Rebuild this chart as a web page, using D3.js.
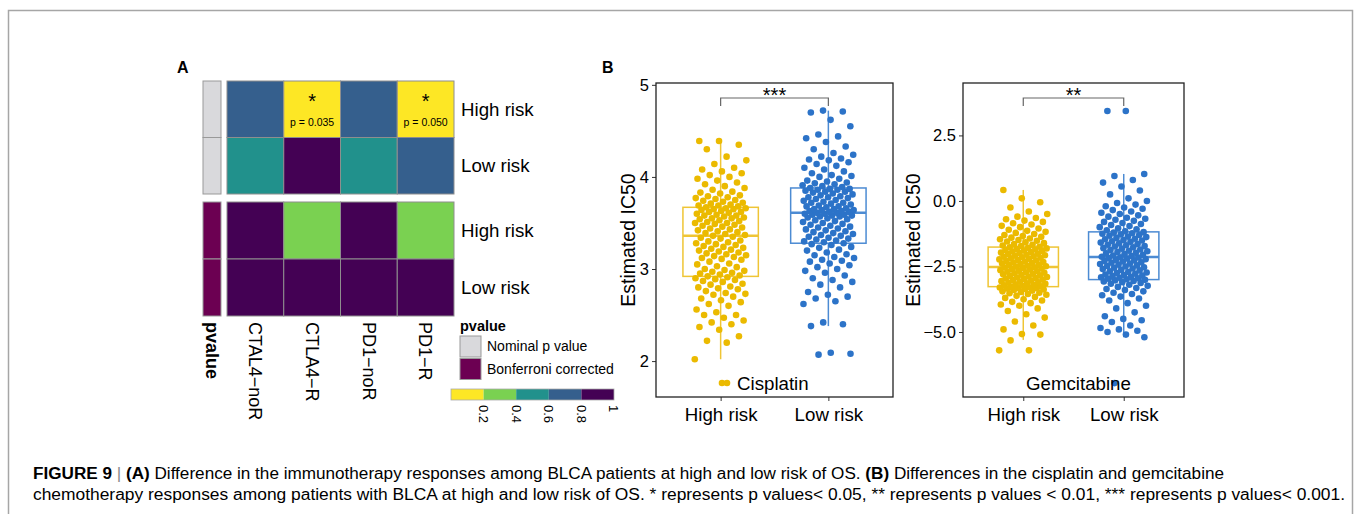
<!DOCTYPE html>
<html>
<head>
<meta charset="utf-8">
<script src="https://cdn.jsdelivr.net/npm/d3@7"></script>
<style>
    body { margin: 0; background: #fff; }
    text { font-family: "Liberation Sans", Arial, sans-serif; fill: #000; }
</style>
</head>
<body>
<svg id="chart"></svg>
<script>
// panel A : heatmap of p values
const heatCols = ["CTAL4−noR", "CTLA4−R", "PD1−noR", "PD1−R"];
const heatRows = ["High risk", "Low risk"];
const nominalP = [[0.70, 0.035, 0.70, 0.050], [0.50, 0.95, 0.50, 0.70]];
const bonferroniP = [[1, 0.28, 1, 0.38], [1, 1, 1, 1]];
const pBreaks = [0.2, 0.4, 0.6, 0.8];
const pColors = ["#FDE725", "#7AD151", "#21918C", "#355F8D", "#440154"];
const pLegendTicks = [0.2, 0.4, 0.6, 0.8, 1];
const annotLabels = ["Nominal p value", "Bonferroni corrected"];
const annotColors = ["#D9D9DC", "#6C0052"];

// panel B : estimated IC50
const groups = ["High risk", "Low risk"];
const cisHigh = [2.02, 2.20, 2.22, 2.27, 2.34, 2.37, 2.40, 2.42, 2.44, 2.47, 2.50, 2.50, 2.53, 2.56, 2.60, 2.62, 2.64, 2.66, 2.68, 2.70,
    2.72, 2.73, 2.74, 2.76, 2.78, 2.79, 2.80, 2.81, 2.83, 2.84, 2.86, 2.87, 2.88, 2.89, 2.90, 2.91, 2.92,
    2.93, 2.94, 2.95, 2.96, 2.97, 2.98, 2.99, 3.00, 3.02, 3.03, 3.05, 3.06, 3.08, 3.10, 3.11, 3.12, 3.13, 3.14, 3.15, 3.16,
    3.17, 3.18, 3.19, 3.20, 3.21, 3.22, 3.23, 3.24, 3.25, 3.26, 3.27, 3.28, 3.29, 3.30, 3.31, 3.33, 3.34, 3.35,
    3.36, 3.37, 3.38, 3.39, 3.40, 3.41, 3.42, 3.43, 3.44, 3.45, 3.46, 3.47, 3.48, 3.49, 3.50, 3.50, 3.51, 3.52, 3.53, 3.54,
    3.55, 3.55, 3.56, 3.57, 3.58, 3.58, 3.59, 3.60, 3.61, 3.62, 3.62, 3.63, 3.64, 3.65, 3.65, 3.66, 3.66, 3.67,
    3.68, 3.69, 3.69, 3.70, 3.71, 3.72, 3.73, 3.74, 3.75, 3.76, 3.77, 3.78, 3.79, 3.80, 3.82, 3.83, 3.84, 3.86, 3.88, 3.90,
    3.92, 3.94, 3.96, 3.98, 4.00, 4.02, 4.04, 4.06, 4.08, 4.10, 4.14, 4.18, 4.22, 4.30, 4.35, 4.39, 4.39];
const cisLow = [2.07, 2.08, 2.09,
    2.38, 2.40, 2.42, 2.62, 2.65, 2.68, 2.70, 2.72, 2.75, 2.80, 2.83, 2.86, 2.88, 2.90, 2.93, 2.96, 2.98, 3.00, 3.02, 3.04,
    3.06, 3.08, 3.09, 3.10, 3.12, 3.13, 3.15, 3.16, 3.18, 3.20, 3.21, 3.23, 3.24, 3.26, 3.27,
    3.28, 3.29, 3.30, 3.31, 3.32, 3.33, 3.34, 3.35, 3.36, 3.37, 3.38, 3.39, 3.40, 3.41, 3.42, 3.43, 3.44, 3.45, 3.46, 3.47,
    3.48, 3.49, 3.50, 3.51, 3.52, 3.53, 3.54, 3.55, 3.56, 3.57, 3.57, 3.58, 3.58, 3.59, 3.59, 3.60, 3.60, 3.61,
    3.61, 3.62, 3.62, 3.63, 3.63, 3.64, 3.64, 3.65, 3.65, 3.66, 3.67, 3.68, 3.68, 3.69, 3.70, 3.71, 3.72, 3.72, 3.73, 3.74,
    3.75, 3.76, 3.77, 3.78, 3.78, 3.79, 3.80, 3.81, 3.82, 3.83, 3.84, 3.84, 3.85, 3.86, 3.86, 3.87, 3.87, 3.88,
    3.89, 3.90, 3.91, 3.92, 3.93, 3.94, 3.95, 3.96, 3.98, 4.00, 4.01, 4.02, 4.04, 4.06, 4.08, 4.10, 4.12, 4.14, 4.16, 4.18,
    4.19, 4.20, 4.22, 4.24, 4.26, 4.30, 4.33, 4.38, 4.42, 4.44, 4.46, 4.55, 4.62, 4.70, 4.71, 4.72];
const gemHigh = [-5.70, -5.70,
    -5.32, -5.10, -5.08, -4.90, -4.75, -4.60, -4.45, -4.32, -4.20, -4.10, -4.00, -3.95, -3.90, -3.85, -3.80, -3.75, -3.70, -3.66,
    -3.62, -3.58, -3.55, -3.52, -3.50, -3.47, -3.45, -3.42, -3.40, -3.38, -3.36, -3.34, -3.32, -3.31, -3.30, -3.29, -3.28,
    -3.26, -3.24, -3.22, -3.20, -3.18, -3.16, -3.14, -3.12, -3.10, -3.08, -3.06, -3.04, -3.02, -3.00, -2.98, -2.96, -2.94, -2.92,
    -2.90, -2.88, -2.86, -2.84, -2.82, -2.80, -2.78, -2.76, -2.74, -2.72, -2.70, -2.68, -2.66, -2.64, -2.62, -2.60, -2.58, -2.56,
    -2.54, -2.53, -2.51, -2.49, -2.47, -2.45, -2.43, -2.41, -2.39, -2.37, -2.35, -2.33, -2.31, -2.29, -2.27, -2.25, -2.23, -2.21,
    -2.19, -2.17, -2.15, -2.13, -2.11, -2.09, -2.07, -2.05, -2.03, -2.01, -1.99, -1.97, -1.95, -1.93, -1.91, -1.89, -1.87, -1.85,
    -1.83, -1.81, -1.79, -1.77, -1.75, -1.72, -1.70, -1.67, -1.64, -1.61, -1.58, -1.55, -1.52, -1.49, -1.46, -1.43, -1.40, -1.37,
    -1.34, -1.30, -1.26, -1.22, -1.18, -1.14, -1.10, -1.05, -1.00, -0.95, -0.90, -0.85, -0.80, -0.75, -0.70, -0.65, -0.60, -0.50,
    -0.40, -0.25, -0.05, 0.10, 0.42];
const gemLow = [-6.95,
    -5.20, -5.10, -5.00, -4.95, -4.90, -4.85, -4.75, -4.62, -4.55, -4.50, -4.40, -4.25, -4.10, -4.00, -3.90, -3.80, -3.72, -3.65,
    -3.60, -3.55, -3.50, -3.45, -3.40, -3.36, -3.32, -3.28, -3.24, -3.20, -3.16, -3.13, -3.10, -3.07, -3.05, -3.03, -3.01,
    -2.99, -2.97, -2.95, -2.93, -2.91, -2.89, -2.87, -2.85, -2.83, -2.81, -2.78, -2.75, -2.73, -2.71, -2.68, -2.65, -2.63, -2.60,
    -2.58, -2.55, -2.53, -2.50, -2.48, -2.46, -2.43, -2.41, -2.39, -2.36, -2.34, -2.31, -2.29, -2.27, -2.25, -2.22, -2.20, -2.18,
    -2.16, -2.15, -2.13, -2.10, -2.08, -2.05, -2.03, -2.00, -1.98, -1.95, -1.92, -1.90, -1.87, -1.85, -1.82, -1.80, -1.77, -1.74,
    -1.72, -1.69, -1.67, -1.64, -1.62, -1.59, -1.56, -1.54, -1.51, -1.49, -1.46, -1.44, -1.41, -1.38, -1.36, -1.33, -1.30, -1.28,
    -1.25, -1.23, -1.21, -1.19, -1.16, -1.12, -1.08, -1.04, -1.00, -0.96, -0.92, -0.88, -0.84, -0.80, -0.76, -0.72, -0.68, -0.64,
    -0.60, -0.55, -0.50, -0.45, -0.40, -0.35, -0.30, -0.25, -0.20, -0.14, -0.08, 0.00, 0.10, 0.25, 0.40, 0.55, 0.70, 0.80, 0.95,
    1.03, 3.43, 3.43];

// box statistics [High risk, Low risk]
const cisQ1 = [2.92, 3.28], cisMed = [3.36, 3.61], cisQ3 = [3.67, 3.88];
const cisWhiskLo = [2.02, 2.38], cisWhiskHi = [4.39, 4.72];
const gemQ1 = [-3.27, -3.00], gemMed = [-2.52, -2.14], gemQ3 = [-1.76, -1.18];
const gemWhiskLo = [-5.30, -5.20], gemWhiskHi = [0.42, 1.03];
const cisTicks = [2, 3, 4, 5];
const gemTicks = [-5, -2.5, 0, 2.5];

const dotColors = ["#EBBA00", "#2C73C8"];
const boxColors = ["#EFC535", "#4C8BD3"];

const svg = d3.select("#chart")
    .attr("width", 1356)
    .attr("height", 514);

// outer frame
svg.append("path")
    .attr("d", "M8.5,514V10.5H1352.5V514")
    .attr("fill", "none")
    .attr("stroke", "#a6a6a6")
    .attr("stroke-width", 1.5);

// ---------- panel A ----------
svg.append("text").attr("x", 177).attr("y", 73)
    .attr("font-size", 16).attr("font-weight", "bold").text("A");

const color = d3.scaleThreshold().domain(pBreaks).range(pColors);
const xCol = d3.scaleBand().domain(heatCols).range([227, 454]);
const blocks = [
    { values: nominalP, y: d3.scaleBand().domain(heatRows).range([81, 194]), annot: annotColors[0] },
    { values: bonferroniP, y: d3.scaleBand().domain(heatRows).range([202, 316]), annot: annotColors[1] }
];

blocks.forEach(b => {
    const cells = [];
    heatRows.forEach((r, i) => heatCols.forEach((c, j) => cells.push({ r, c, p: b.values[i][j] })));

    svg.append("g").selectAll("rect")
        .data(heatRows).enter().append("rect")
        .attr("x", 203).attr("width", 18)
        .attr("y", d => b.y(d)).attr("height", b.y.bandwidth())
        .attr("fill", b.annot).attr("stroke", "#999").attr("stroke-width", 1);

    const g = svg.append("g");
    g.selectAll("rect")
        .data(cells).enter().append("rect")
        .attr("x", d => xCol(d.c)).attr("width", xCol.bandwidth())
        .attr("y", d => b.y(d.r)).attr("height", b.y.bandwidth())
        .attr("fill", d => color(d.p))
        .attr("stroke", "#8e8e8e").attr("stroke-width", 1);

    if (b.values === nominalP) {
        const sig = cells.filter(d => d.p <= 0.05);
        g.selectAll(".star").data(sig).enter().append("text")
            .attr("x", d => xCol(d.c) + xCol.bandwidth() / 2)
            .attr("y", d => b.y(d.r) + 27)
            .attr("text-anchor", "middle").attr("font-size", 20).text("*");
        g.selectAll(".pv").data(sig).enter().append("text")
            .attr("x", d => xCol(d.c) + xCol.bandwidth() / 2)
            .attr("y", d => b.y(d.r) + 45)
            .attr("text-anchor", "middle").attr("font-size", 10.5)
            .text(d => "p = " + d3.format(".3f")(d.p));
    }

    svg.append("g").selectAll("text")
        .data(heatRows).enter().append("text")
        .attr("x", 461)
        .attr("y", d => b.y(d) + b.y.bandwidth() / 2)
        .attr("dy", "0.35em")
        .attr("font-size", 18.7)
        .text(d => d);
});

svg.append("g").selectAll("text")
    .data(heatCols).enter().append("text")
    .attr("transform", d => `translate(${xCol(d) + xCol.bandwidth() / 2},322) rotate(90)`)
    .attr("dy", "0.35em")
    .attr("font-size", 18)
    .text(d => d);

svg.append("text")
    .attr("transform", "translate(212,322) rotate(90)")
    .attr("dy", "0.35em")
    .attr("font-size", 18).attr("font-weight", "bold")
    .text("pvalue");

// annotation legend
svg.append("text").attr("x", 460).attr("y", 331)
    .attr("font-size", 14.5).attr("font-weight", "bold").text("pvalue");
const leg = svg.append("g").selectAll("g")
    .data(annotLabels).enter().append("g")
    .attr("transform", (d, i) => `translate(460,${336 + i * 22.5})`);
leg.append("rect").attr("width", 21).attr("height", 21)
    .attr("fill", (d, i) => annotColors[i]).attr("stroke", "#999");
leg.append("text").attr("x", 27).attr("y", 10.5).attr("dy", "0.35em")
    .attr("font-size", 14).text(d => d);

// colour bar
const xBar = d3.scaleLinear().domain([0, 1]).range([451, 614]);
const barEdges = [0].concat(pLegendTicks);
svg.append("g").selectAll("rect")
    .data(pColors).enter().append("rect")
    .attr("x", (d, i) => xBar(barEdges[i]))
    .attr("width", (d, i) => xBar(barEdges[i + 1]) - xBar(barEdges[i]))
    .attr("y", 389).attr("height", 11)
    .attr("fill", d => d);
svg.append("rect").attr("x", 451).attr("y", 389).attr("width", 163).attr("height", 11)
    .attr("fill", "none").attr("stroke", "#aaa").attr("stroke-width", 0.8);
svg.append("g").selectAll("text")
    .data(pLegendTicks).enter().append("text")
    .attr("transform", d => `translate(${xBar(d)},405) rotate(90)`)
    .attr("dy", "0.35em")
    .attr("font-size", 13)
    .text(d => d3.format("")(d));

// ---------- panel B ----------
svg.append("text").attr("x", 602).attr("y", 73)
    .attr("font-size", 16).attr("font-weight", "bold").text("B");

function boxPanel(opt) {
    const x = d3.scalePoint().domain(groups).range([opt.left, opt.right]).padding(0.6);
    const y = d3.scaleLinear().domain(opt.domain).range([397, 83]);
    const step = x.step();
    const bw = step * 0.7;
    const g = svg.append("g");

    g.append("g")
        .attr("transform", `translate(${opt.left},0)`)
        .call(d3.axisLeft(y).tickValues(opt.ticks).tickSize(4).tickFormat(opt.fmt))
        .call(a => a.select(".domain").remove())
        .call(a => a.selectAll("text").attr("font-size", 16.5).attr("fill", "#000").attr("font-family", null))
        .call(a => a.selectAll("line").attr("stroke", "#333"));

    g.append("g")
        .attr("transform", "translate(0,397)")
        .call(d3.axisBottom(x).tickSize(4).tickPadding(7))
        .call(a => a.select(".domain").remove())
        .call(a => a.selectAll("text").attr("font-size", 18.7).attr("fill", "#000").attr("font-family", null))
        .call(a => a.selectAll("line").attr("stroke", "#333"));

    g.append("text")
        .attr("transform", `translate(${opt.titleX},240) rotate(-90)`)
        .attr("text-anchor", "middle")
        .attr("font-size", 19.5)
        .text("Estimated IC50");

    groups.forEach((grp, i) => {
        const cx = x(grp);
        const bg = g.append("g").attr("stroke", boxColors[i]).attr("fill", "none");
        bg.append("line").attr("x1", cx).attr("x2", cx)
            .attr("y1", y(opt.q3[i])).attr("y2", y(opt.hi[i])).attr("stroke-width", 1.5);
        bg.append("line").attr("x1", cx).attr("x2", cx)
            .attr("y1", y(opt.q1[i])).attr("y2", y(opt.lo[i])).attr("stroke-width", 1.5);
        bg.append("rect")
            .attr("x", cx - bw / 2).attr("width", bw)
            .attr("y", y(opt.q3[i])).attr("height", y(opt.q1[i]) - y(opt.q3[i]))
            .attr("stroke-width", 1.5);
        bg.append("line").attr("x1", cx - bw / 2).attr("x2", cx + bw / 2)
            .attr("y1", y(opt.med[i])).attr("y2", y(opt.med[i])).attr("stroke-width", 2.5);

        g.append("g").selectAll("circle")
            .data(opt.values[i]).enter().append("circle")
            .attr("cx", (d, k) => cx + (((k * 0.6180339887 + i * 0.31) % 1) - 0.5) * 2 * 0.24 * step)
            .attr("cy", d => y(d))
            .attr("r", 3.3)
            .attr("fill", dotColors[i]);
    });

    const x0 = x(groups[0]), x1 = x(groups[1]);
    g.append("path")
        .attr("d", `M${x0},106V98H${x1}V106`)
        .attr("fill", "none").attr("stroke", "#666").attr("stroke-width", 1.2);
    g.append("text")
        .attr("x", (x0 + x1) / 2).attr("y", 102)
        .attr("text-anchor", "middle").attr("font-size", 20)
        .text(opt.stars);

    if (opt.key) {
        g.append("g").selectAll("circle")
            .data([0, 1]).enter().append("circle")
            .attr("cx", d => opt.keyX - 15 + d * 5).attr("cy", 383)
            .attr("r", 3.3).attr("fill", dotColors[0]);
    }
    g.append("text").attr("x", opt.keyX).attr("y", 390)
        .attr("font-size", 18.7).text(opt.label);

    g.append("rect")
        .attr("x", opt.left).attr("y", 83)
        .attr("width", opt.right - opt.left).attr("height", 314)
        .attr("fill", "none").attr("stroke", "#222").attr("stroke-width", 1.3);
}

boxPanel({
    left: 656, right: 893, domain: [1.61, 5.02], ticks: cisTicks, fmt: d3.format("d"),
    values: [cisHigh, cisLow], q1: cisQ1, med: cisMed, q3: cisQ3, lo: cisWhiskLo, hi: cisWhiskHi,
    stars: "***", label: "Cisplatin", key: true, keyX: 737, titleX: 635
});
boxPanel({
    left: 963, right: 1184, domain: [-7.48, 4.5], ticks: gemTicks, fmt: d3.format(".1f"),
    values: [gemHigh, gemLow], q1: gemQ1, med: gemMed, q3: gemQ3, lo: gemWhiskLo, hi: gemWhiskHi,
    stars: "**", label: "Gemcitabine", key: false, keyX: 1026, titleX: 920
});

// ---------- caption ----------
const cap = svg.append("g").attr("font-size", 16).attr("fill", "#333");
const line1 = cap.append("text").attr("x", 33).attr("y", 479)
    .attr("textLength", 1191).attr("lengthAdjust", "spacingAndGlyphs");
line1.append("tspan").attr("font-weight", "bold").text("FIGURE 9");
line1.append("tspan").attr("fill", "#888").text(" | ");
line1.append("tspan").attr("font-weight", "bold").text("(A)");
line1.append("tspan").text(" Difference in the immunotherapy responses among BLCA patients at high and low risk of OS. ");
line1.append("tspan").attr("font-weight", "bold").text("(B)");
line1.append("tspan").text(" Differences in the cisplatin and gemcitabine");
cap.append("text").attr("x", 33).attr("y", 500)
    .attr("textLength", 1312).attr("lengthAdjust", "spacingAndGlyphs")
    .text("chemotherapy responses among patients with BLCA at high and low risk of OS. * represents p values< 0.05, ** represents p values < 0.01, *** represents p values< 0.001.");
</script>
</body>
</html>
